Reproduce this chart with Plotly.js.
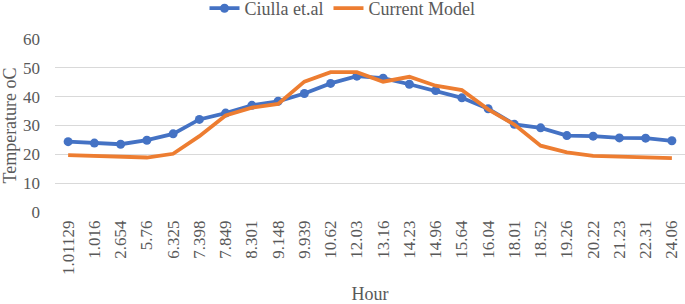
<!DOCTYPE html>
<html>
<head>
<meta charset="utf-8">
<script src="https://cdn.plot.ly/plotly-3.0.1.min.js"></script>
<style>html,body{margin:0;padding:0;background:#fff;}#chart{width:685px;height:304px;}</style>
</head>
<body>
<div id="chart"></div>
<script>
var hours = ["1.01129","1.016","2.654","5.76","6.325","7.398","7.849","8.301","9.148","9.939","10.62","12.03","13.16","14.23","14.96","15.64","16.04","18.01","18.52","19.26","20.22","21.23","22.31","24.06"];
var ciulla = [24.4,23.9,23.5,24.9,27.1,32.1,34.3,37.0,38.4,41.1,44.6,47.1,46.4,44.3,42.1,39.6,35.8,30.4,29.2,26.5,26.3,25.7,25.6,24.7];
var currentModel = [19.7,19.5,19.3,18.9,20.2,26.3,33.5,36.2,37.5,45.2,48.5,48.5,45.2,46.9,43.8,42.3,35.6,30.3,23.0,20.7,19.5,19.2,18.9,18.7];

var fam = "Liberation Serif";
var font = {family: fam, size: 17, color: "#595959"};

var traces = [
  {x: hours, y: ciulla, name: "Ciulla et.al", type: "scatter", mode: "lines+markers",
   line: {color: "#4472C4", width: 3.8}, marker: {color: "#4472C4", size: 9}},
  {x: hours, y: currentModel, name: "Current Model", type: "scatter", mode: "lines",
   line: {color: "#ED7D31", width: 3.8}}
];

var layout = {
  width: 685, height: 304,
  margin: {l: 55, r: 0, t: 39, b: 92, autoexpand: false},
  paper_bgcolor: "#fff", plot_bgcolor: "#fff",
  font: font,
  showlegend: true,
  legend: {orientation: "h", xref: "container", yref: "container", x: 0.5, xanchor: "center", y: 0.972, yanchor: "middle",
           font: {family: fam, size: 18, color: "#595959"}, itemwidth: 30, tracegroupgap: 0,
           bgcolor: "rgba(0,0,0,0)"},
  xaxis: {type: "category", range: [-0.5, 23.5], autorange: false, tickangle: -90, showgrid: false, zeroline: false, showline: false, ticks: "",
          automargin: false, tickfont: font, ticklabelstandoff: 4,
          title: {text: "Hour", font: {family: fam, size: 18, color: "#595959"}, standoff: 15}},
  yaxis: {range: [0, 60], dtick: 10, showgrid: true, gridcolor: "#d9d9d9", gridwidth: 1, zeroline: false,
          showline: false, ticks: "", automargin: false, tickfont: font, ticklabelstandoff: 14,
          title: {text: "Temperature oC", font: {family: fam, size: 18, color: "#595959"}, standoff: 1}}
};

Plotly.newPlot("chart", traces, layout, {displayModeBar: false, staticPlot: true});
</script>
</body>
</html>
